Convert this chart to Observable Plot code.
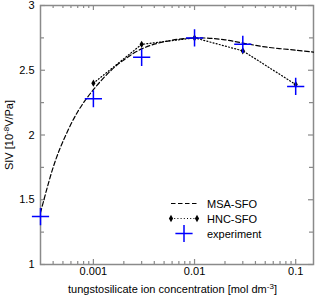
<!DOCTYPE html>
<html><head><meta charset="utf-8">
<script src="https://cdn.jsdelivr.net/npm/d3@7"></script>
<script src="https://cdn.jsdelivr.net/npm/@observablehq/plot@0.6"></script>
<style>body{margin:0;background:#fff}</style>
</head><body><div id="chart"></div>
<script>
// MSA-SFO theory curve (dashed)
const msaConc = [0.0003,0.0004,0.0005,0.0007,0.001,0.0015,0.002,0.003,0.005,0.01,0.02,0.03,0.05,0.1,0.15];
const msaSIV  = [1.40,1.75,1.95,2.18,2.35,2.50,2.58,2.665,2.72,2.75,2.735,2.71,2.68,2.655,2.64];
// HNC-SFO theory points (dotted + markers)
const hncConc = [0.001,0.003,0.01,0.03,0.1];
const hncSIV  = [2.40,2.70,2.75,2.65,2.39];
// experiment
const expConc = [0.0003,0.001,0.003,0.01,0.03,0.1];
const expSIV  = [1.37,2.28,2.60,2.75,2.70,2.375];
// ticks
const xMajor = [0.001,0.01,0.1];
const xMinor = [0.0004,0.0005,0.0006,0.0007,0.0008,0.0009,0.002,0.003,0.004,0.005,0.006,0.007,0.008,0.009,0.02,0.03,0.04,0.05,0.06,0.07,0.08,0.09];
const yMajor = [1,1.5,2,2.5,3];
const yMinor = [1.25,1.75,2.25,2.75];

const msa = msaConc.map((c,i)=>({c, v: msaSIV[i]}));
const hnc = hncConc.map((c,i)=>({c, v: hncSIV[i]}));
const exp = expConc.map((c,i)=>({c, v: expSIV[i]}));

const W=318,H=296,mL=40,mR=5,mT=5,mB=32;
const innerW=W-mL-mR, innerH=H-mT-mB;
const tickColor="#8a8a8a";
const font="Liberation Sans, Arial, Helvetica, sans-serif";
const plusR = 5.6, diaR = 2.2;

const plot = Plot.plot({
  width:W, height:H, marginLeft:mL, marginRight:mR, marginTop:mT, marginBottom:mB,
  x:{type:"log", domain:[0.0003,0.15]},
  y:{domain:[1,3]},
  style:{fontFamily:font, fontSize:"11px", background:"#fff", color:"#000"},
  marks:[
    Plot.ruleX(xMajor,{x:d=>d, insetTop:innerH-5, stroke:tickColor, strokeWidth:1.2}),
    Plot.ruleX(xMajor,{x:d=>d, insetBottom:innerH-5, stroke:tickColor, strokeWidth:1.2}),
    Plot.ruleX(xMinor,{x:d=>d, insetTop:innerH-3, stroke:tickColor, strokeWidth:1.2}),
    Plot.ruleX(xMinor,{x:d=>d, insetBottom:innerH-3, stroke:tickColor, strokeWidth:1.2}),
    Plot.ruleY(yMajor,{y:d=>d, insetRight:innerW-5, stroke:tickColor, strokeWidth:1.2}),
    Plot.ruleY(yMajor,{y:d=>d, insetLeft:innerW-5, stroke:tickColor, strokeWidth:1.2}),
    Plot.ruleY(yMinor,{y:d=>d, insetRight:innerW-4, stroke:tickColor, strokeWidth:1.2}),
    Plot.ruleY(yMinor,{y:d=>d, insetLeft:innerW-4, stroke:tickColor, strokeWidth:1.2}),
    Plot.frame({stroke:tickColor, strokeWidth:1.5}),
    Plot.axisX(xMajor,{anchor:"bottom", tickSize:0, tickPadding:3, tickFormat:d=>String(d), label:null}),
    Plot.axisY(yMajor,{anchor:"left", tickSize:0, tickPadding:6, tickFormat:d=>String(d), label:null}),
    Plot.line(msa,{x:"c", y:"v", curve:"catmull-rom", stroke:"#000", strokeWidth:1.2, strokeDasharray:"4.5,2.5"}),
    Plot.line(hnc,{x:"c", y:"v", stroke:"#000", strokeWidth:1.2, strokeDasharray:"1,2.2"}),
    Plot.dot(hnc,{x:"c", y:"v", symbol:"diamond", r:diaR, fill:"#000", stroke:"none"}),
    Plot.dot(exp,{x:"c", y:"v", symbol:"plus", r:plusR, stroke:"#0000ff", strokeWidth:1.5})
  ]
});

const svg = d3.select(plot);
// axis labels
const yl = svg.append("text").attr("transform","translate(13,135) rotate(-90)")
  .attr("text-anchor","middle").attr("font-family",font).attr("font-size",11).attr("fill","#000");
yl.append("tspan").text("SIV [10");
yl.append("tspan").attr("dy",-4).attr("font-size",8).text("-8");
yl.append("tspan").attr("dy",4).text("V/Pa]");

const xl = svg.append("text").attr("x",172.5).attr("y",293)
  .attr("text-anchor","middle").attr("font-family",font).attr("font-size",11).attr("fill","#000");
xl.append("tspan").text("tungstosilicate ion concentration [mol dm");
xl.append("tspan").attr("dy",-4).attr("font-size",8).text("-3");
xl.append("tspan").attr("dy",4).text("]");

// legend
const lg = svg.append("g").attr("font-family",font).attr("font-size",11).attr("fill","#000").attr("text-anchor","start");
lg.append("line").attr("x1",171).attr("x2",197).attr("y1",203.5).attr("y2",203.5)
  .attr("stroke","#000").attr("stroke-width",1.2).attr("stroke-dasharray","4.5,2.5");
lg.append("text").attr("x",207).attr("y",207.5).text("MSA-SFO");
lg.append("line").attr("x1",171).attr("x2",197).attr("y1",218.5).attr("y2",218.5)
  .attr("stroke","#000").attr("stroke-width",1.2).attr("stroke-dasharray","1,2.2");
const dia = d3.symbol(d3.symbolDiamond, Math.PI*diaR*diaR)();
[171,197].forEach(x=>lg.append("path").attr("d",dia).attr("transform",`translate(${x},218.5)`).attr("fill","#000"));
lg.append("text").attr("x",207).attr("y",222.5).text("HNC-SFO");
const plus = d3.symbol(d3.symbolPlus, Math.PI*plusR*plusR)();
lg.append("path").attr("d",plus).attr("transform","translate(184,233.5)").attr("fill","none").attr("stroke","#0000ff").attr("stroke-width",1.5);
lg.append("text").attr("x",207).attr("y",237.5).text("experiment");

document.getElementById("chart").appendChild(plot);
</script>
</body></html>
